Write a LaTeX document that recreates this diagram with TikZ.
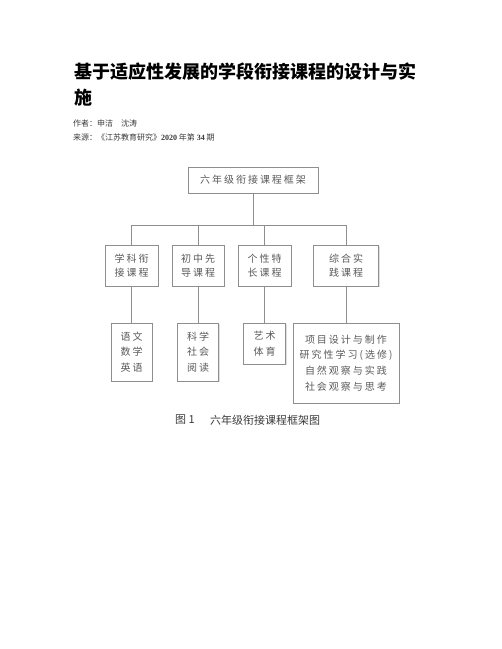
\documentclass[tikz,border=0pt]{standalone}
\usepackage{fontspec}
\newfontfamily\cjk{Noto Sans CJK SC}
\newfontfamily\cjkbox[LetterSpace=20]{Noto Sans CJK SC}
\newfontfamily\numfont{Liberation Serif}
\definecolor{LineGray}{HTML}{8E8E8E}
\definecolor{TextGray}{HTML}{5A5A5A}
\definecolor{MetaGray}{HTML}{3A3A3A}
\usetikzlibrary{
  positioning,
  shadows
}

\begin{document}
\begin{tikzpicture}[
  x=1pt, y=-1pt,
  frame/.style={
    rectangle, draw=LineGray, fill=white, line width=0.7pt,
    inner sep=0pt, align=center, text=TextGray,
    font=\cjkbox\fontsize{10}{14.5}\selectfont,
    drop shadow={shadow xshift=1pt, shadow yshift=-1pt, opacity=0.25}
  },
  leaf/.style={frame, font=\cjkbox\fontsize{10}{15.7}\selectfont},
  link/.style={draw=LineGray, line width=0.7pt}
]
  % Page area
  \useasboundingbox (0,0) rectangle (502,649);

  % Heading
  \node[anchor=west, inner sep=0pt, font=\cjk\bfseries\fontsize{18}{18}\selectfont]
    (title) at (74,72) {基于适应性发展的学段衔接课程的设计与实};
  \node[anchor=west, inner sep=0pt, font=\cjk\bfseries\fontsize{18}{18}\selectfont]
    (titleb) at (74,98) {施};
  \node[anchor=west, inner sep=0pt, text=MetaGray, font=\cjk\fontsize{8}{8}\selectfont]
    (author) at (73,123) {作者：申洁\quad 沈涛};
  \node[anchor=west, inner sep=0pt, text=MetaGray, font=\cjk\fontsize{8}{8}\selectfont]
    (source) at (73,137) {来源：《江苏教育研究》{\numfont\bfseries 2020} 年第 {\numfont\bfseries 34} 期};

  % Top level
  \node[frame, minimum width=130, minimum height=26] (root) at (253,180)
    {六年级衔接课程框架};

  % Second level
  \node[frame, minimum width=53, minimum height=41] (subj) at (131.5,265.5)
    {学科衔\\接课程};
  \node[frame, minimum width=52, minimum height=41] (pre) at (198,265.5)
    {初中先\\导课程};
  \node[frame, minimum width=53, minimum height=41] (pers) at (264.5,265.5)
    {个性特\\长课程};
  \node[frame, minimum width=65, minimum height=41] (prac) at (346,265.5)
    {综合实\\践课程};

  % Third level
  \node[leaf, minimum width=41, minimum height=58, anchor=north] (subjc) at (131.5,322.7)
    {语文\\数学\\英语};
  \node[leaf, minimum width=41, minimum height=58, anchor=north] (prec) at (198,322.7)
    {科学\\社会\\阅读};
  \node[leaf, minimum width=42, minimum height=41, anchor=north] (persc) at (264.5,322.7)
    {艺术\\体育};
  \node[leaf, minimum width=106, minimum height=80, anchor=north] (pracc) at (346,322.7)
    {项目设计与制作\\研究性学习(选修)\\自然观察与实践\\社会观察与思考};

  % Connectors
  \coordinate (bus) at (253,225.7);
  \draw[link] (root.south) -- (bus);
  \draw[link] (subj.north) |- (bus) -| (prac.north);
  \draw[link] (pre.north) -- (pre.north |- bus);
  \draw[link] (pers.north) -- (pers.north |- bus);
  \draw[link] (subj.south) -- (subjc.north);
  \draw[link] (pre.south) -- (prec.north);
  \draw[link] (pers.south) -- (persc.north);
  \draw[link] (prac.south) -- (pracc.north);

  % Caption
  \node[anchor=west, inner sep=0pt, text=MetaGray, font=\cjk\fontsize{11}{11}\selectfont]
    (fig) at (175,420) {图 1};
  \node[anchor=west, inner sep=0pt, text=MetaGray, font=\cjk\fontsize{11}{11}\selectfont]
    (caption) at (210,420) {六年级衔接课程框架图};
\end{tikzpicture}
\end{document}
